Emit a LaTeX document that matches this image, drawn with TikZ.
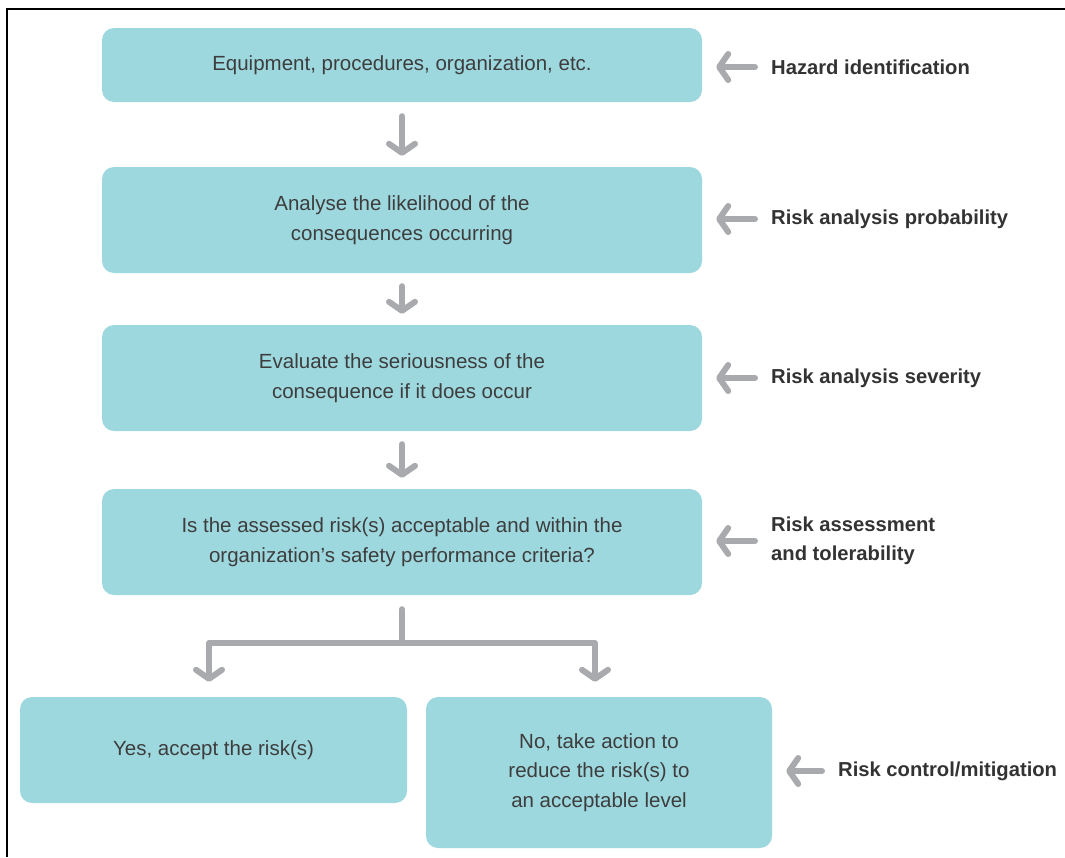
\documentclass[tikz,border=0pt]{standalone}
\usepackage{fontspec}
\setmainfont{Liberation Sans}
\usetikzlibrary{arrows.meta}
\definecolor{boxfill}{HTML}{9ED8DF}
\definecolor{arrgray}{HTML}{A9AAAD}
\definecolor{txtgray}{HTML}{3D3D3D}
\definecolor{lblgray}{HTML}{333333}
\tikzset{
  stepbox/.style={fill=boxfill, rounded corners=12pt, inner sep=0pt, align=center,
    text=txtgray, font=\fontsize{20.5}{29.5}\selectfont},
  lbl/.style={anchor=west, inner sep=0pt, align=left, text=lblgray,
    font=\fontsize{20.2}{29}\selectfont\bfseries},
  arr/.style={draw=arrgray, line width=6pt, line cap=round, line join=round,
    -{Straight Barb[round,length=9pt,width=26pt]}},
  ln/.style={draw=arrgray, line width=6pt, line cap=round, line join=round},
}
\begin{document}
\begin{tikzpicture}[x=1pt,y=-1pt]
\useasboundingbox (0,0) rectangle (1065,857);
\draw[line width=2pt, black] (7,857) -- (7,9) -- (1065,9);

\node[stepbox, minimum width=600pt, minimum height=74pt] (b1) at (402,65) {Equipment, procedures, organization, etc.};
\node[stepbox, minimum width=600pt, minimum height=106pt] (b2) at (402,220) {Analyse the likelihood of the\\consequences occurring};
\node[stepbox, minimum width=600pt, minimum height=106pt] (b3) at (402,378) {Evaluate the seriousness of the\\consequence if it does occur};
\node[stepbox, minimum width=600pt, minimum height=106pt] (b4) at (402,542) {Is the assessed risk(s) acceptable and within the\\organization's safety performance criteria?};
\node[stepbox, minimum width=387pt, minimum height=106pt] (b5) at (213.5,750) {Yes, accept the risk(s)};
\node[stepbox, minimum width=346pt, minimum height=151pt] (b6) at (599,772.5) {No, take action to\\reduce the risk(s) to\\an acceptable level};

\node[lbl] (l1) at (771,67) {Hazard identification};
\node[lbl] (l2) at (771,219) {Risk analysis probability};
\node[lbl] (l3) at (771,378) {Risk analysis severity};
\node[lbl] (l4) at (771,541) {Risk assessment\\and tolerability};
\node[lbl] (l6) at (838,771) {Risk control/mitigation};

\draw[arr] ([yshift=-14pt]b1.south) -- ([yshift=11pt]b2.north);
\draw[arr] ([yshift=-13pt]b2.south) -- ([yshift=11pt]b3.north);
\draw[arr] ([yshift=-13pt]b3.south) -- ([yshift=11pt]b4.north);

\coordinate (j) at (402,643);
\coordinate (jl) at (209,643);
\coordinate (jr) at (595,643);
\draw[ln] ([yshift=-14pt]b4.south) -- (j);
\draw[ln, line cap=butt] (jl) -- (jr);
\draw[arr] (jl) -- ([yshift=15pt]jl |- b5.north);
\draw[arr] (jr) -- ([yshift=15pt]jr |- b6.north);

\draw[arr] ([xshift=-16pt]l1.west) -- ([xshift=14pt]b1.east |- l1.west);
\draw[arr] ([xshift=-16pt]l2.west) -- ([xshift=14pt]b2.east |- l2.west);
\draw[arr] ([xshift=-16pt]l3.west) -- ([xshift=14pt]b3.east |- l3.west);
\draw[arr] ([xshift=-16pt]l4.west) -- ([xshift=14pt]b4.east |- l4.west);
\draw[arr] ([xshift=-16pt]l6.west) -- ([xshift=14pt]b6.east |- l6.west);
\end{tikzpicture}
\end{document}
